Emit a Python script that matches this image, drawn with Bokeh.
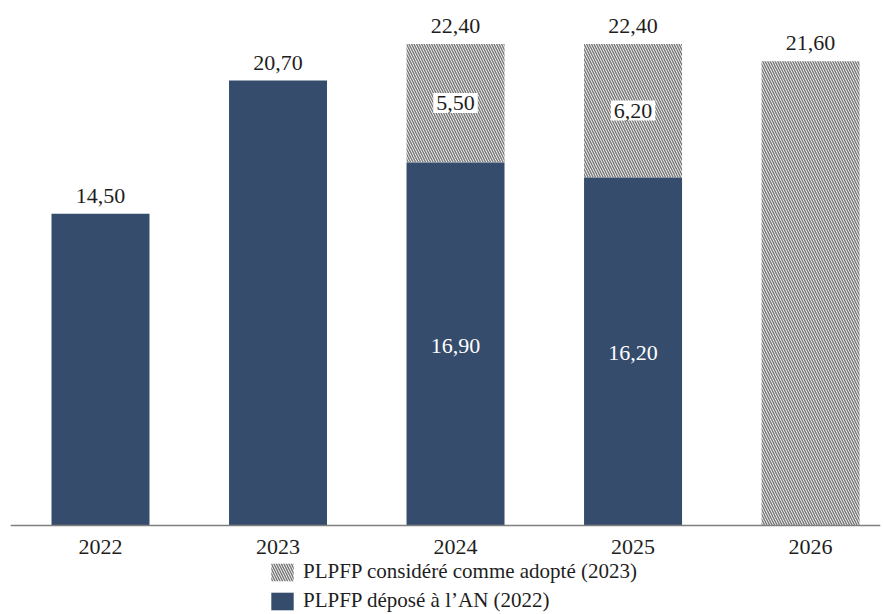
from bokeh.plotting import figure
from bokeh.models import ColumnDataSource, Range1d, Legend, LegendItem, FixedTicker
from bokeh.core.properties import value
from bokeh.embed import file_html
from bokeh.resources import INLINE

# Dépenses par année (Md€)
years = ["2022", "2023", "2024", "2025", "2026"]
depose_2022 = [14.5, 20.7, 16.9, 16.2, 0.0]      # PLPFP déposé à l'AN (2022)
adopte_2023 = [0.0, 0.0, 5.5, 6.2, 21.6]         # complément PLPFP considéré comme adopté (2023)

NAVY = "#364c6d"
FONT = "Liberation Serif"
TXT = "#1e1e1e"


def fr(v):
    return f"{v:.2f}".replace(".", ",")


xs = list(range(len(years)))
totals = [a + b for a, b in zip(depose_2022, adopte_2023)]

src = ColumnDataSource(dict(
    x=xs,
    depose=depose_2022,
    top=totals,
    total_label=[fr(t) for t in totals],
))

# la zone de tracé descend jusqu'en bas : l'axe est fixé à y = 0 et la
# légende occupe l'espace situé sous l'axe
p = figure(
    width=883, height=614,
    x_range=Range1d(-0.507, 4.394), y_range=Range1d(-4.14, 24.19),
    output_backend="svg", toolbar_location=None,
    y_axis_location=None,
    min_border_left=10, min_border_right=3, min_border_top=5, min_border_bottom=0,
)
p.outline_line_color = None
p.xgrid.visible = False
p.ygrid.visible = False
p.background_fill_color = "white"
p.border_fill_color = "white"

W = 0.552
navy = p.vbar(x="x", top="depose", bottom=0, width=W, source=src,
              fill_color=NAVY, line_color=None)
hatch = p.vbar(x="x", top="top", bottom="depose", width=W, source=src,
               fill_color="white", line_color=None,
               hatch_pattern="left_diagonal_line", hatch_color="#7a7a7a",
               hatch_scale=5, hatch_weight=1.5)

# valeur totale au-dessus de chaque barre
p.text(x="x", y="top", text="total_label", source=src,
       text_align="center", text_baseline="bottom", y_offset=-11,
       text_font=value(FONT), text_font_size="22px", text_color=TXT)

# étiquettes internes pour les barres empilées
sx, sn, sh, nl, hl = [], [], [], [], []
for i, (d, a) in enumerate(zip(depose_2022, adopte_2023)):
    if d > 0 and a > 0:
        sx.append(i)
        sn.append(d / 2)
        sh.append(d + a / 2)
        nl.append(fr(d))
        hl.append(fr(a))
inner = ColumnDataSource(dict(x=sx, yn=sn, yh=sh, nl=nl, hl=hl))

p.text(x="x", y="yn", text="nl", source=inner,
       text_align="center", text_baseline="middle", y_offset=2,
       text_font=value(FONT), text_font_size="22px", text_color="white")
p.text(x="x", y="yh", text="hl", source=inner,
       text_align="center", text_baseline="middle",
       text_font=value(FONT), text_font_size="22px", text_color=TXT,
       background_fill_color="white", padding=3)

ax = p.xaxis[0]
ax.fixed_location = 0
ax.ticker = FixedTicker(ticks=xs)
ax.major_label_overrides = {i: y for i, y in enumerate(years)}
ax.major_tick_line_color = None
ax.minor_tick_line_color = None
ax.axis_line_color = "#7f7f7f"
ax.axis_line_width = 1.5
ax.major_label_standoff = 8
ax.major_label_text_font = FONT
ax.major_label_text_font_size = "22px"
ax.major_label_text_color = TXT

legend = Legend(
    items=[
        LegendItem(label="PLPFP considéré comme adopté (2023)", renderers=[hatch]),
        LegendItem(label="PLPFP déposé à l\u2019AN (2022)", renderers=[navy]),
    ],
    location=(258, 1),
    margin=0, padding=0, spacing=4,
    glyph_width=28, glyph_height=22, label_height=22,
    label_standoff=7,
    label_text_font=FONT, label_text_font_size="21px", label_text_color=TXT,
    background_fill_alpha=0, border_line_color=None,
)
p.add_layout(legend, "center")

open("out.html", "w").write(file_html(p, INLINE))
